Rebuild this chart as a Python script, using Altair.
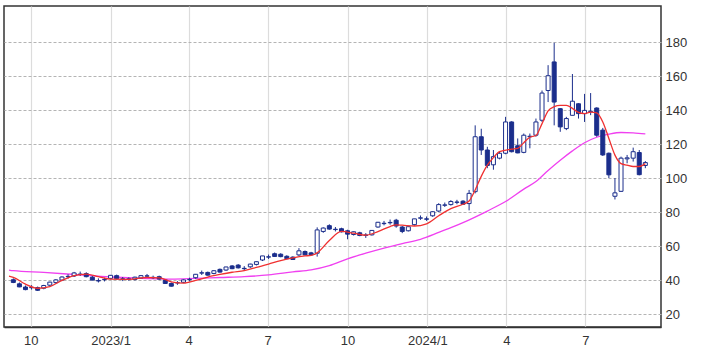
import altair as alt
import pandas as pd
from datetime import date, timedelta

# weekly candles (first week start)
start = date(2022, 9, 11)

opens = [
    40.2, 37.8, 35.9, 35.5, 35.6, 35.2, 37.0, 38.5, 40.0, 42.0,
    42.4, 43.5, 43.8, 41.7, 39.7, 40.2, 41.0, 42.6, 40.7, 40.5,
    40.3, 41.2, 42.3, 41.6, 42.0, 40.0, 38.0, 38.3, 38.7, 40.2,
    41.4, 44.1, 44.5, 43.9, 46.3, 45.9, 48.3, 48.8, 46.9, 47.8,
    49.2, 51.8, 53.5, 55.5, 55.2, 54.0, 53.5, 54.8, 56.8, 56.0,
    55.8, 68.6, 72.0, 69.9, 70.2, 69.0, 66.8, 67.8, 66.5, 66.6,
    71.2, 73.2, 73.7, 75.2, 71.2, 69.0, 72.6, 76.4, 76.0, 77.8,
    80.6, 84.0, 84.4, 85.7, 86.4, 85.0, 92.0, 124.3, 116.5, 107.8,
    111.7, 114.6, 133.0, 119.0, 115.1, 124.3, 125.2, 134.0, 151.5, 168.3,
    140.8, 129.1, 136.9, 143.7, 137.9, 139.0, 141.2, 128.2, 114.6, 89.3,
    92.2, 111.3, 111.7, 115.0, 107.4]

highs = [
    41.0, 38.6, 36.8, 37.0, 36.2, 37.2, 39.0, 40.6, 42.2, 43.4,
    44.8, 45.0, 44.6, 42.4, 41.0, 41.4, 43.0, 43.2, 41.8, 41.6,
    42.0, 43.0, 43.6, 42.6, 42.6, 40.6, 38.6, 39.4, 40.4, 41.4,
    43.6, 45.6, 45.0, 45.8, 46.8, 47.8, 48.8, 49.4, 48.2, 49.6,
    51.0, 54.2, 55.0, 56.2, 55.8, 54.6, 54.0, 58.8, 57.4, 56.6,
    71.0, 71.0, 72.8, 71.2, 70.8, 69.6, 68.6, 68.4, 67.6, 69.4,
    74.2, 74.8, 75.6, 76.0, 71.8, 71.6, 76.0, 78.0, 77.4, 80.4,
    85.2, 85.6, 87.0, 87.2, 87.0, 93.0, 131.0, 129.0, 118.4, 116.5,
    115.5, 136.0, 133.4, 123.3, 126.2, 126.2, 135.0, 151.5, 166.4, 179.6,
    141.2, 136.0, 161.2, 144.0, 149.5, 150.0, 141.6, 129.5, 115.0, 100.0,
    112.6, 113.6, 117.9, 116.5, 110.0]

lows = [
    38.2, 35.8, 34.0, 34.4, 33.6, 34.6, 36.5, 37.8, 39.4, 40.8,
    41.8, 42.4, 41.6, 39.8, 38.6, 39.2, 40.4, 40.4, 39.4, 39.6,
    39.8, 40.8, 41.4, 40.6, 40.2, 37.8, 36.2, 37.2, 38.2, 39.2,
    40.8, 43.0, 42.6, 43.4, 44.4, 45.4, 46.4, 46.8, 45.4, 47.2,
    48.6, 51.2, 52.4, 53.6, 53.4, 52.2, 51.8, 54.2, 54.6, 54.2,
    53.8, 67.8, 69.6, 68.6, 68.0, 64.0, 66.2, 65.8, 64.8, 66.2,
    70.8, 72.2, 72.6, 70.8, 67.6, 68.6, 72.0, 75.4, 74.8, 77.2,
    80.0, 83.0, 83.8, 84.6, 84.2, 81.0, 91.0, 113.6, 105.8, 104.9,
    111.0, 114.0, 115.1, 114.6, 114.6, 117.5, 124.3, 133.0, 144.7, 131.0,
    127.2, 128.2, 136.9, 135.0, 133.0, 137.0, 124.3, 113.0, 100.0, 87.4,
    91.8, 108.7, 109.7, 101.6, 105.8]

closes = [
    38.6, 36.0, 34.4, 35.7, 34.0, 36.8, 38.8, 40.1, 41.8, 42.2,
    44.2, 43.3, 42.0, 40.0, 39.5, 40.4, 42.8, 40.8, 40.5, 40.7,
    41.7, 42.6, 42.5, 41.4, 40.6, 38.0, 36.4, 38.5, 40.1, 40.4,
    43.4, 44.3, 42.9, 45.5, 44.7, 47.7, 46.7, 47.2, 46.7, 49.4,
    50.8, 54.2, 53.7, 53.9, 53.8, 52.6, 52.1, 57.2, 54.8, 54.8,
    69.5, 70.6, 70.0, 69.7, 68.4, 67.0, 68.4, 66.2, 66.3, 69.2,
    74.0, 73.4, 73.9, 71.8, 68.6, 71.4, 76.0, 76.6, 75.8, 80.2,
    84.4, 84.2, 86.2, 85.9, 84.6, 91.0, 124.3, 116.5, 107.4, 112.6,
    114.6, 133.0, 115.5, 114.8, 125.2, 124.6, 133.0, 150.0, 160.2, 144.7,
    130.1, 135.0, 145.2, 137.9, 139.8, 139.3, 125.2, 113.6, 101.9, 91.3,
    111.7, 111.9, 115.5, 102.0, 109.1]

# both averages begin at the left edge of the plot
edge_date = "2022-09-06"
ma_short_edge = 42.3
ma_long_edge = 45.9

# short moving average (red), read at these week indices
ma_short_idx = [0, 2, 4, 6, 8, 10, 12, 14, 16, 19,
                22, 24, 26, 28, 30, 32, 34, 36, 38, 40,
                42, 44, 46, 48, 49, 50, 52, 54, 56, 58,
                60, 62, 63, 64, 66, 68, 70, 72, 74, 75,
                76, 77, 78, 79, 80, 82, 83, 84, 85, 86,
                87, 88, 89, 90, 91, 92, 93, 94, 95, 96,
                97, 98, 99, 100, 101, 102, 103, 104]
ma_short_val = [41.6, 37.6, 35.2, 36.2, 39.8, 42.6, 43.5, 42.0, 40.5, 40.4,
                41.5, 41.3, 39.0, 38.2, 39.8, 41.8, 43.3, 44.6, 45.6, 47.4,
                49.4, 51.5, 53.1, 54.2, 54.5, 56.0, 63.3, 68.6, 67.6, 66.4,
                68.5, 71.5, 72.5, 72.3, 71.8, 73.1, 77.8, 82.0, 84.6, 86.5,
                93.0, 101.0, 107.6, 112.0, 115.5, 117.0, 117.5, 120.8, 124.0, 125.0,
                132.0, 139.5, 142.0, 142.8, 142.8, 141.0, 138.6, 137.9, 138.8, 138.4,
                133.0, 123.3, 113.5, 108.5, 107.6, 106.8, 106.8, 108.5]

# long moving average (magenta)
ma_long_idx = [0, 5, 10, 16, 22, 26, 30, 34, 38, 42,
               46, 49, 52, 55, 58, 61, 64, 67, 70, 72,
               74, 78, 81, 84, 86, 88, 90, 92, 94, 96,
               98, 100, 102, 104]
ma_long_val = [45.5, 44.5, 43.3, 41.8, 40.9, 40.6, 41.0, 41.5, 42.0, 43.0,
               44.8, 46.0, 48.5, 52.5, 55.8, 58.8, 61.5, 64.0, 68.0, 70.8,
               73.8, 80.6, 86.2, 93.5, 98.0, 104.5, 110.5, 116.0, 120.8, 124.0,
               125.8, 126.8, 126.6, 126.0]

y_ticks = [20, 40, 60, 80, 100, 120, 140, 160, 180]
x_tick_months = [(2022, 10), (2023, 1), (2023, 4), (2023, 7), (2023, 10),
                 (2024, 1), (2024, 4), (2024, 7)]

weeks = [(start + timedelta(days=7 * i)).isoformat() for i in range(len(opens))]
candles = pd.DataFrame({"week": weeks, "open": opens, "high": highs,
                        "low": lows, "close": closes})
ma_short = pd.DataFrame({"week": [edge_date] + [weeks[i] for i in ma_short_idx],
                         "value": [ma_short_edge] + ma_short_val})
ma_long = pd.DataFrame({"week": [edge_date] + [weeks[i] for i in ma_long_idx],
                        "value": [ma_long_edge] + ma_long_val})

NAVY = "#1b2e8c"
FONT = "Liberation Sans"

x_scale = alt.Scale(type="utc", domain=[
    alt.DateTime(year=2022, month=9, date=6, utc=True),
    alt.DateTime(year=2024, month=9, date=20, hours=7, utc=True)])
y_scale = alt.Scale(domain=[12.4, 201.2], nice=False, zero=False)

x_axis = alt.Axis(
    values=[alt.DateTime(year=y, month=m, date=1, utc=True) for y, m in x_tick_months],
    labelExpr="utcmonth(datum.value) == 0 ? utcyear(datum.value) + '/1' : '' + (utcmonth(datum.value) + 1)",
    title=None, ticks=False, grid=True, gridColor="#dcdcdc", gridWidth=1.2,
    domainColor="#333333", domainWidth=1.5, labelPadding=7, labelFontSize=13,
    labelColor="#333333", labelFont=FONT, labelFlush=False)
y_axis = alt.Axis(
    orient="right", values=y_ticks, title=None, ticks=False, domain=False,
    grid=True, gridDash=[3, 2], gridColor="#b4b4b4", labelPadding=4,
    labelFontSize=13, labelColor="#333333", labelFont=FONT, labelFlush=False)

base = alt.Chart(candles)
wicks = base.mark_rule(color=NAVY, strokeWidth=1).encode(
    x=alt.X("week:T", scale=x_scale, axis=x_axis),
    y=alt.Y("low:Q", scale=y_scale, axis=y_axis, title=None),
    y2="high:Q")
bodies = base.mark_bar(size=4, stroke=NAVY, strokeWidth=1).encode(
    x=alt.X("week:T", scale=x_scale, title=None),
    y=alt.Y("open:Q", scale=y_scale, title=None),
    y2="close:Q",
    fill=alt.condition("datum.close >= datum.open", alt.value("white"), alt.value(NAVY)))
line_long = alt.Chart(ma_long).mark_line(color="#f040f0", strokeWidth=1.3, interpolate="monotone").encode(
    x=alt.X("week:T", scale=x_scale, title=None),
    y=alt.Y("value:Q", scale=y_scale, title=None))
line_short = alt.Chart(ma_short).mark_line(color="#f03030", strokeWidth=1.3, interpolate="monotone").encode(
    x=alt.X("week:T", scale=x_scale, title=None),
    y=alt.Y("value:Q", scale=y_scale, title=None))

chart = alt.layer(line_long, wicks, bodies, line_short).properties(
    width=657, height=321,
    autosize=alt.AutoSizeParams(type="none"),
    padding={"left": 4, "top": 6, "right": 48, "bottom": 27},
    background="white",
).configure_view(stroke="#333333", strokeWidth=1.5)

chart.save("out.html", embed_options={"renderer": "svg", "actions": False})
